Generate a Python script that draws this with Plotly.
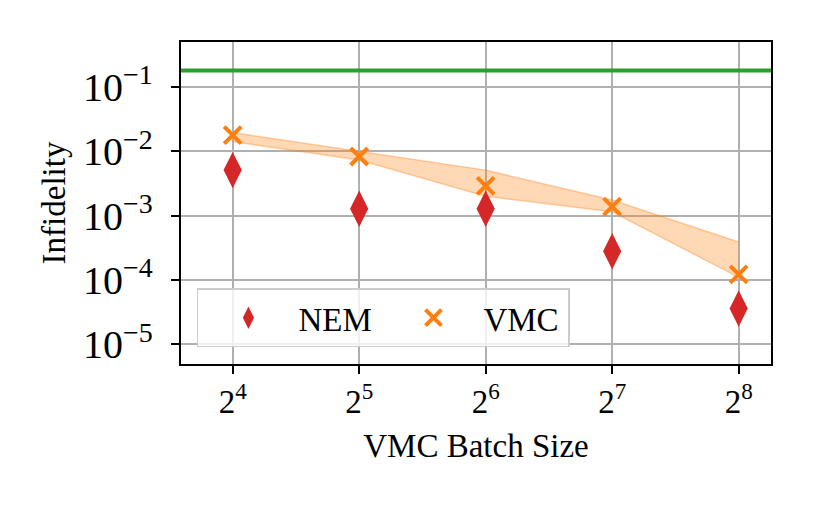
import plotly.graph_objects as go
import numpy as np

batch = [16, 32, 64, 128, 256]
batch_labels = ["2<sup>4</sup>", "2<sup>5</sup>", "2<sup>6</sup>", "2<sup>7</sup>", "2<sup>8</sup>"]
nem = [5.1e-3, 1.28e-3, 1.28e-3, 2.8e-4, 3.6e-5]
vmc = [0.0179, 0.0083, 0.0029, 0.00138, 1.22e-4]
vmc_upper = [0.0195, 0.0099, 0.0051, 0.00175, 3.9e-4]
vmc_lower = [0.0142, 0.0073, 0.0020, 0.00115, 1.1e-4]
baseline = 0.18

FONT = "Liberation Serif"
fig = go.Figure()

fig.add_trace(go.Scatter(x=batch, y=vmc_upper, mode="lines",
                         line=dict(color="rgba(255,127,14,0.35)", width=1.5),
                         showlegend=False, hoverinfo="skip"))
fig.add_trace(go.Scatter(x=batch, y=vmc_lower, mode="lines", fill="tonexty",
                         fillcolor="rgba(255,127,14,0.3)",
                         line=dict(color="rgba(255,127,14,0.35)", width=1.5),
                         showlegend=False, hoverinfo="skip"))

fig.add_hline(y=baseline, line=dict(color="#2ca02c", width=4))

fig.add_trace(go.Scatter(x=batch, y=nem, mode="markers", name="NEM",
                         marker=dict(symbol="diamond-tall", size=26, color="#d62728",
                                     line=dict(width=0))))
fig.add_trace(go.Scatter(x=batch, y=vmc, mode="markers", name="VMC",
                         marker=dict(symbol="x-thin", size=17, color="#ff7f0e",
                                     line=dict(width=4, color="#ff7f0e"))))

x0 = 3.5915 * np.log10(2)
x1 = 8.2557 * np.log10(2)

fig.update_layout(
    width=821, height=507,
    margin=dict(l=173, r=58, t=34, b=151),
    paper_bgcolor="white", plot_bgcolor="white",
    font=dict(family=FONT, size=33, color="black"),
    legend=dict(orientation="h", x=0.027, y=0.052, xanchor="left", yanchor="bottom",
                traceorder="normal",
                bgcolor="rgba(255,255,255,0.8)", bordercolor="#cccccc", borderwidth=1.5,
                font=dict(family=FONT, size=33), entrywidth=80, itemwidth=90),
)
fig.update_xaxes(type="log", range=[x0, x1], tickvals=batch, ticktext=batch_labels,
                 showgrid=True, gridcolor="#b0b0b0", gridwidth=1.5,
                 showline=True, linecolor="black", linewidth=1.5, mirror=True,
                 ticks="outside", ticklen=8, tickwidth=1.5, tickcolor="black",
                 tickfont=dict(family=FONT, size=33),
                 title=dict(text="VMC Batch Size", font=dict(family=FONT, size=33), standoff=15),
                 zeroline=False)
fig.update_yaxes(type="log", range=[-5.306, -0.301], dtick=1, exponentformat="power",
                 showgrid=True, gridcolor="#b0b0b0", gridwidth=1.5,
                 showline=True, linecolor="black", linewidth=1.5, mirror=True,
                 ticks="outside", ticklen=8, tickwidth=1.5, tickcolor="black",
                 ticklabelstandoff=12,
                 tickfont=dict(family=FONT, size=32),
                 title=dict(text="Infidelity", font=dict(family=FONT, size=33), standoff=8),
                 zeroline=False)

fig.write_html("out.html")
